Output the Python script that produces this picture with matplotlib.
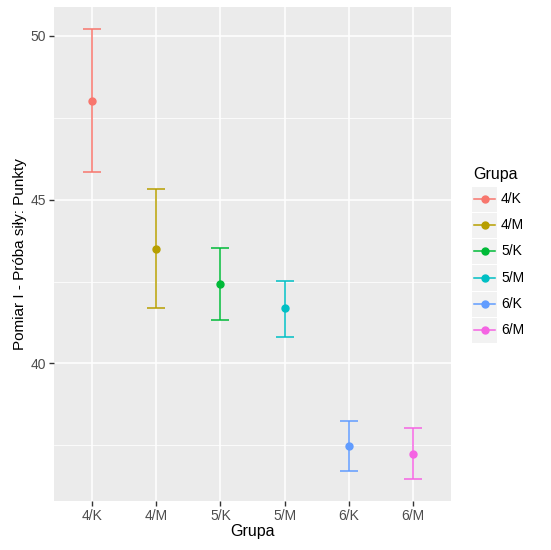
import matplotlib
matplotlib.use("Agg")
from matplotlib import pyplot as plt
from matplotlib.lines import Line2D
from matplotlib.patches import Rectangle

plt.rcParams['font.family'] = ['Liberation Sans', 'DejaVu Sans']

groups = ["4/K", "4/M", "5/K", "5/M", "6/K", "6/M"]
means = [48.02, 43.50, 42.43, 41.68, 37.47, 37.25]
upper = [50.19, 45.31, 43.52, 42.53, 38.24, 38.03]
lower = [45.84, 41.70, 41.33, 40.80, 36.72, 36.49]
colors = ["#F8766D", "#B79F00", "#00BA38", "#00BFC4", "#619CFF", "#F564E3"]

W, H = 551, 550
fig = plt.figure(figsize=(5.51, 5.50), dpi=100)
ax = fig.add_axes([54 / W, 1 - 501 / H, 397 / W, 494 / H])
ax.set_facecolor("#EBEBEB")
for s in ax.spines.values():
    s.set_visible(False)

x = list(range(1, len(groups) + 1))
for xi, m, lo, hi, c in zip(x, means, lower, upper, colors):
    err = [[m - lo], [hi - m]]
    ax.errorbar([xi], [m], yerr=err, color=c, capsize=6.5, elinewidth=1.1,
                capthick=1.1, fmt="o", markersize=5, zorder=3)

ylo, yhi = min(lower), max(upper)
pad = (yhi - ylo) * 0.05
ax.set_ylim(ylo - pad, yhi + pad)
ax.set_xlim(0.4, len(groups) + 0.6)
ax.set_xticks(x)
ax.set_xticklabels(groups)
ax.set_yticks([40, 45, 50])
ax.set_yticks([37.5, 42.5, 47.5], minor=True)
ax.grid(which="major", color="white", linewidth=1.1, zorder=0)
ax.grid(which="minor", axis="y", color="white", linewidth=0.55, zorder=0)
ax.set_axisbelow(True)
ax.tick_params(which="major", colors="#333333", length=3.5, width=1,
               labelsize=10, labelcolor="#4D4D4D", pad=2)
ax.tick_params(which="minor", length=0)
ax.set_xlabel("Grupa", fontsize=11.5, labelpad=1)
ax.set_ylabel("Pomiar I - Próba siły: Punkty", fontsize=11, labelpad=2.5)

# legend, ggplot style
fig.text(473 / W, 1 - 174 / H, "Grupa", fontsize=11.5, va="center", ha="left")
key_h = 26.3
top = 185.5
for i, (g, c) in enumerate(zip(groups, colors)):
    y0 = top + i * key_h
    fig.patches.append(Rectangle((472 / W, 1 - (y0 + key_h) / H), 25 / W, (key_h - 1) / H,
                                 transform=fig.transFigure, facecolor="#F2F2F2",
                                 edgecolor="none"))
    yc = 1 - (y0 + key_h / 2) / H
    fig.lines.append(Line2D([474 / W, 495 / W], [yc, yc], transform=fig.transFigure,
                            color=c, linewidth=1.1, marker=None))
    fig.lines.append(Line2D([484.5 / W], [yc], transform=fig.transFigure,
                            color=c, marker="o", markersize=5, linestyle="none"))
    fig.text(501 / W, yc, g, fontsize=10, va="center", ha="left")

fig.savefig("out.png", dpi=100)
